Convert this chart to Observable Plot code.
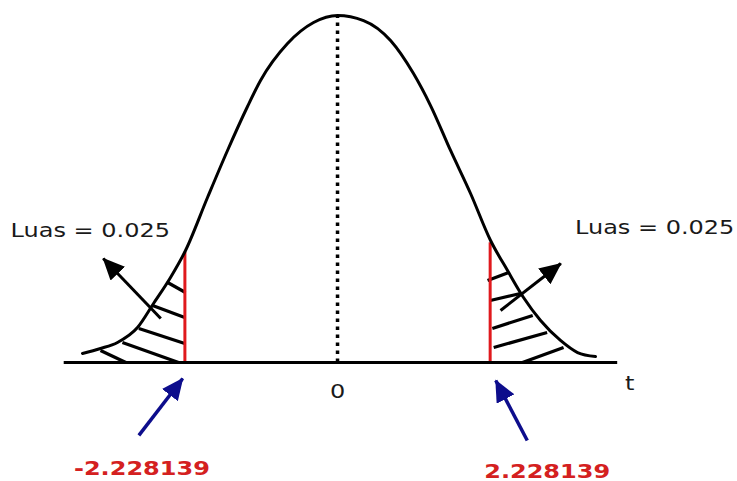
<!DOCTYPE html>
<html>
<head>
<meta charset="utf-8">
<script src="https://cdn.jsdelivr.net/npm/d3@7"></script>
<script src="https://cdn.jsdelivr.net/npm/@observablehq/plot@0.6"></script>
<style>
  html, body { margin: 0; padding: 0; background: #fff; }
  #chart svg { display: block; }
</style>
</head>
<body>
<div id="chart"></div>
<script>
// Two-tailed critical values of t (df = 10, alpha = 0.05)
const critT = [-2.228139, 2.228139];
const critHeight = [0.127, 0.138];
const tailArea = ["Luas = 0.025", "Luas = 0.025"];

// Sketched density curve (t, height)
const curveT = [-3.723, -3.460, -3.212, -2.920, -2.686, -2.438, -2.219, -1.898, -1.606, -1.314, -1.124, -0.730, -0.350, 0,
                0.380, 0.774, 1.109, 1.358, 1.650, 1.942, 2.234, 2.482, 2.715, 2.964, 3.255, 3.504, 3.766];
const curveD = [0.0104, 0.0161, 0.0231, 0.0403, 0.0680, 0.0980, 0.1291, 0.1902, 0.2444, 0.2951, 0.3251, 0.3677, 0.3919, 0.4000,
                0.3942, 0.3712, 0.3331, 0.2962, 0.2444, 0.1948, 0.1406, 0.1060, 0.0749, 0.0484, 0.0254, 0.0115, 0.0069];
const peak = 0.400;

// Hatching strokes in the two rejection regions
const hatchT1 = [-2.48, -2.70, -2.90, -3.14, -3.46, 2.19, 2.23, 2.26, 2.28, 2.70];
const hatchD1 = [0.0922, 0.0657, 0.0392, 0.0231, 0.0138, 0.0945, 0.0715, 0.0392, 0.0173, 0];
const hatchT2 = [-2.22, -2.23, -2.23, -2.32, -3.09, 2.50, 2.67, 2.85, 3.06, 3.30];
const hatchD2 = [0.0807, 0.0519, 0.0219, 0, 0, 0.1037, 0.0795, 0.0542, 0.0346, 0.0173];

// Pointers: area callouts (black) and critical value callouts (blue)
const areaArrowT1 = [-2.58, 2.38], areaArrowD1 = [0.0507, 0.0599];
const areaArrowT2 = [-3.42, 3.26], areaArrowD2 = [0.1199, 0.1141];
const critArrowT1 = [-2.90, 2.77], critArrowD1 = [-0.0841, -0.0899];
const critArrowT2 = [-2.26, 2.31], critArrowD2 = [-0.0184, -0.0207];

// Horizontal axis extent and labels
const axisT = [-3.99, 4.09];
const areaLabelT = [-3.61, 4.63], areaLabelD = [0.152, 0.1556];
const zeroLabel = "0", axisName = "t";

const font = "'DejaVu Sans', sans-serif";

function headMarker(len, wid) {
  return (color) => {
    const m = d3.create("svg:marker")
      .attr("viewBox", `0 ${-wid / 2} ${len} ${wid}`)
      .attr("markerUnits", "userSpaceOnUse")
      .attr("markerWidth", len)
      .attr("markerHeight", wid)
      .attr("refX", len - 1)
      .attr("refY", 0)
      .attr("orient", "auto");
    m.append("path")
      .attr("d", `M0,${-wid / 2}L${len},0L0,${wid / 2}Z`)
      .attr("fill", color)
      .attr("stroke", "none");
    return m.node();
  };
}

const curve = curveT.map((t, i) => ({t, d: curveD[i]}));
const hatches = hatchT1.map((t, i) => ({t1: t, d1: hatchD1[i], t2: hatchT2[i], d2: hatchD2[i]}));
const areaArrows = areaArrowT1.map((t, i) => ({t1: t, d1: areaArrowD1[i], t2: areaArrowT2[i], d2: areaArrowD2[i]}));
const critArrows = critArrowT1.map((t, i) => ({t1: t, d1: critArrowD1[i], t2: critArrowT2[i], d2: critArrowD2[i]}));
const crit = critT.map((t, i) => ({t, h: critHeight[i], label: String(t)}));
const areas = tailArea.map((s, i) => ({s, t: areaLabelT[i], d: areaLabelD[i]}));

const textStyle = {fill: "#1a1a1a", fontSize: 20, fontFamily: font};
const critStyle = {fill: "#d42020", fontSize: 20, fontWeight: "bold", fontFamily: font};

const chart = Plot.plot({
  width: 737,
  height: 481,
  margin: 0,
  x: {domain: [-4.920, 5.839], axis: null},
  y: {domain: [-0.1372, 0.4173], axis: null},
  style: {background: "#fff", fontFamily: font},
  marks: [
    // dotted centre line
    Plot.ruleX([0], {y1: 0, y2: peak, stroke: "#000", strokeWidth: 3.5, strokeDasharray: "3.5,4.5"}),
    // hatching
    Plot.link(hatches, {x1: "t1", y1: "d1", x2: "t2", y2: "d2", stroke: "#000", strokeWidth: 3.2}),
    // critical value lines
    Plot.ruleX(crit, {x: "t", y1: 0, y2: "h", stroke: "#e0191d", strokeWidth: 3}),
    // axis line
    Plot.ruleY([0], {x1: axisT[0], x2: axisT[1], stroke: "#000", strokeWidth: 3}),
    // density curve
    Plot.line(curve, {x: "t", y: "d", curve: "monotone-x", stroke: "#000", strokeWidth: 3}),
    // arrows
    Plot.link(areaArrows, {x1: "t1", y1: "d1", x2: "t2", y2: "d2", stroke: "#000", strokeWidth: 3, markerEnd: headMarker(22, 20)}),
    Plot.link(critArrows, {x1: "t1", y1: "d1", x2: "t2", y2: "d2", stroke: "#0d0d8c", strokeWidth: 3.5, markerEnd: headMarker(22, 20)}),
    // texts
    Plot.text(areas, {x: "t", y: "d", text: "s", ...textStyle}),
    Plot.text([zeroLabel], {x: 0, y: 0, dy: 29, text: d => d, ...textStyle}),
    Plot.text([axisName], {x: axisT[1], y: 0, dx: 12, dy: 21, text: d => d, ...textStyle}),
    Plot.text(crit.slice(0, 1), {x: "t", y: 0, dx: -43, dy: 106, text: "label", ...critStyle}),
    Plot.text(crit.slice(1), {x: "t", y: 0, dx: 57, dy: 109, text: "label", ...critStyle})
  ]
});

// the lettering is set slightly wide
d3.select(chart).selectAll("text").each(function () {
  const tr = this.getAttribute("transform") || "";
  this.setAttribute("transform", `${tr} scale(1.2,1)`);
});

document.getElementById("chart").append(chart);
</script>
</body>
</html>
